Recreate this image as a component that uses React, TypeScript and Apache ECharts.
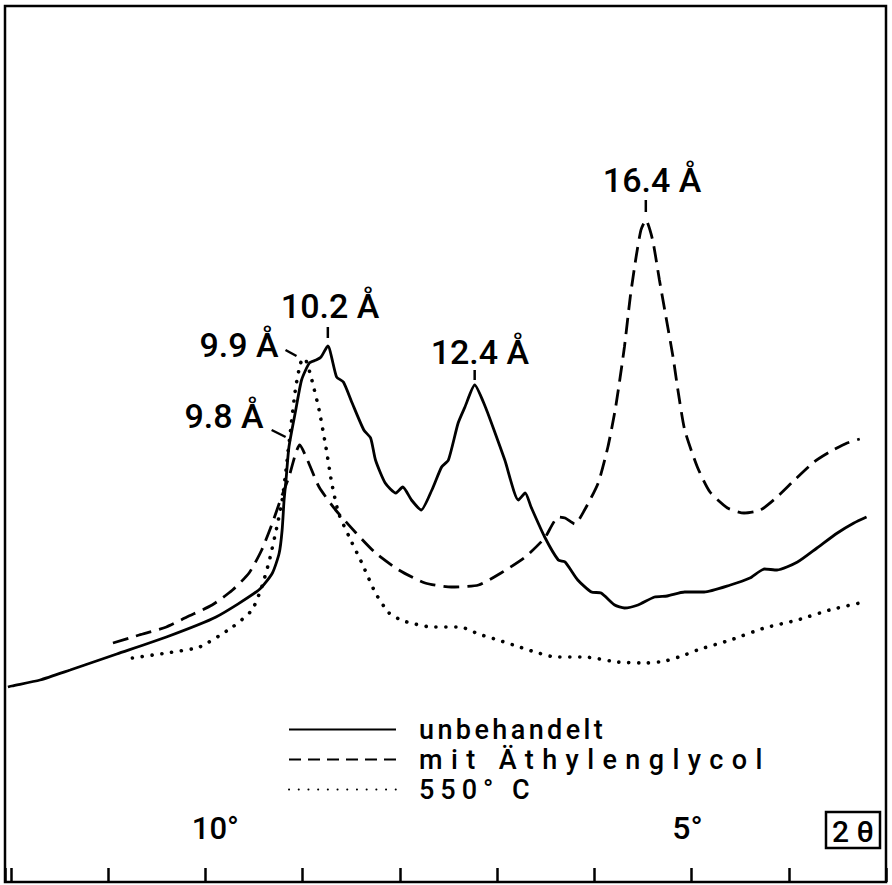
import React, { useEffect, useRef } from "react";
import * as echarts from "echarts";

// ---- data (2θ in degrees, intensity in arbitrary units) ----
const seriesNames = ["unbehandelt", "mit Äthylenglycol", "550° C"];

const untreated: [number, number][] = [
  [12.03, 195], [11.99, 196], [11.7, 202], [11.39, 212], [11.09, 222], [10.91, 228],
  [10.4, 245], [9.89, 265], [9.45, 292], [9.31, 309], [9.24, 329], [9.21, 352],
  [9.19, 382], [9.17, 402], [9.14, 435], [9.07, 472], [9.01, 502], [8.93, 519],
  [8.86, 522], [8.81, 525], [8.74, 536], [8.65, 505], [8.58, 500], [8.49, 479],
  [8.37, 452], [8.3, 444], [8.25, 422], [8.15, 399], [8.04, 389], [7.97, 395],
  [7.88, 382], [7.78, 372], [7.67, 392], [7.57, 415], [7.5, 422], [7.4, 459],
  [7.33, 475], [7.23, 497], [7.12, 475], [7.02, 449], [6.92, 422], [6.78, 382],
  [6.71, 389], [6.65, 375], [6.51, 345], [6.37, 322], [6.3, 320], [6.17, 302],
  [6.03, 290], [5.93, 289], [5.79, 277], [5.69, 274], [5.55, 277], [5.38, 285],
  [5.25, 286], [5.07, 290], [4.87, 290], [4.6, 297], [4.4, 304], [4.25, 313],
  [4.12, 312], [3.91, 320], [3.71, 334], [3.5, 349], [3.33, 359], [3.2, 365],
];

const glycol: [number, number][] = [
  [10.95, 239], [10.68, 247], [10.4, 255], [10.19, 265], [9.93, 277], [9.72, 292],
  [9.55, 309], [9.42, 332], [9.31, 359], [9.21, 387], [9.14, 405], [9.07, 429],
  [9.03, 437], [8.95, 422], [8.83, 395], [8.66, 372], [8.45, 349], [8.25, 329],
  [8.01, 312], [7.74, 299], [7.47, 295], [7.19, 297], [6.96, 309], [6.71, 325],
  [6.51, 344], [6.37, 365], [6.3, 364], [6.2, 358], [6.1, 372], [5.96, 399],
  [5.86, 435], [5.78, 475], [5.69, 535], [5.63, 585], [5.57, 625], [5.52, 652],
  [5.47, 662], [5.4, 642], [5.33, 602], [5.27, 569], [5.19, 525], [5.14, 492],
  [5.07, 452], [4.94, 415], [4.81, 390], [4.63, 374], [4.46, 369], [4.29, 372],
  [4.12, 385], [3.94, 402], [3.74, 420], [3.58, 430], [3.4, 439], [3.27, 443],
];

const heated: [number, number][] = [
  [10.75, 224], [10.4, 229], [10.06, 235], [9.72, 255], [9.52, 272], [9.42, 295],
  [9.34, 322], [9.26, 357], [9.21, 382], [9.17, 412], [9.12, 455], [9.07, 495],
  [9.02, 519], [8.98, 524], [8.91, 504], [8.83, 472], [8.76, 435], [8.7, 399],
  [8.63, 369], [8.52, 345], [8.39, 319], [8.25, 289], [8.11, 269], [7.96, 261],
  [7.67, 255], [7.38, 255], [7.19, 248], [6.99, 242], [6.8, 236], [6.61, 230],
  [6.4, 225], [6.1, 225], [5.76, 220], [5.47, 219], [5.27, 221], [5.07, 227],
  [4.94, 232], [4.6, 242], [4.25, 254], [3.91, 262], [3.58, 272], [3.27, 279],
];

// x-axis ticks and their labels
const labeledTicks = [10, 5];
const tickLabelTexts = ["10°", "5°"];
const axisTitle = "2 θ";

// peak annotations (d-spacings)
const peakLabels = ["16.4 Å", "12.4 Å", "10.2 Å", "9.9 Å", "9.8 Å"];
const peakTheta = [5.47, 7.23, 8.74, 8.98, 9.03];
const peakIntensity = [662, 497, 536, 524, 437];

// ---- layout/style (not data) ----
const annLayout = [
  { dx: -43, dy: -40, align: "left", mark: [0, -20, 0, -8] },
  { dx: -44, dy: -33, align: "left", mark: [0, -15, 0, -5] },
  { dx: -47, dy: -40, align: "left", mark: [0, -19, 0, -8] },
  { dx: -26, dy: -13, align: "right", mark: [-19, -8, -8, -2] },
  { dx: -36, dy: -29, align: "right", mark: [-28, -15, -14, -8] },
];
const tickLabelStyles = ["ten", "five"];

const FONT = 'Roboto, "DejaVu Sans", sans-serif';
const W = 892;
const H = 885;
const LEGEND_LETTER_SPACING = [3.4, 8.4, 6];

export default function App() {
  const ref = useRef<HTMLDivElement>(null);

  useEffect(() => {
    if (!ref.current) return;
    const chart = echarts.init(ref.current, null, { renderer: "svg", width: W, height: H });

    const lineStyles: any[] = [
      { color: "#000", width: 2.8, type: "solid" },
      { color: "#000", width: 2.8, type: [16, 8] },
      { color: "#000", width: 3.6, type: [0.1, 9.8], cap: "round" },
    ];
    const datasets = [untreated, glycol, heated];
    const labelFont = { fontFamily: FONT, fontWeight: 500, fontSize: 31, color: "#000" };

    const option: any = {
      animation: false,
      backgroundColor: "#fff",
      grid: {
        left: 5,
        right: 6,
        top: 6,
        bottom: 3,
        show: true,
        borderColor: "#000",
        borderWidth: 2.5,
        backgroundColor: "transparent",
      },
      xAxis: {
        type: "value",
        inverse: true,
        min: 3,
        max: 12.06,
        interval: 1,
        axisLine: { show: false },
        splitLine: { show: false },
        axisTick: { show: true, inside: true, length: 14, lineStyle: { color: "#000", width: 2.5 } },
        axisLabel: {
          inside: true,
          margin: 38,
          ...labelFont,
          rich: {
            ten: { ...labelFont, padding: [0, 0, 0, 20] },
            five: { ...labelFont, fontSize: 32, padding: [0, 8, 0, 0] },
          },
          formatter: (v: number) => {
            const i = labeledTicks.indexOf(Math.round(v * 1000) / 1000);
            return i >= 0 ? `{${tickLabelStyles[i]}|${tickLabelTexts[i]}}` : "";
          },
        },
      },
      yAxis: { type: "value", min: 0, max: 876, show: false },
      legend: {
        orient: "vertical",
        left: 283,
        top: 711,
        itemWidth: 107,
        itemHeight: 14,
        itemGap: 3,
        selectedMode: false,
        icon: "inherit",
        itemStyle: { opacity: 0 },
        textStyle: { color: "#000", fontFamily: FONT, fontWeight: 500, fontSize: 27, padding: [0, 0, 0, 18] },
        data: [
          { name: seriesNames[0] },
          { name: seriesNames[1], lineStyle: { type: [12, 7] } },
          { name: seriesNames[2], lineStyle: { type: [0.1, 9.6] } },
        ],
      },
      series: datasets.map((d, i) => ({
        name: seriesNames[i],
        type: "line",
        data: d,
        showSymbol: false,
        symbol: "none",
        smooth: 0.2,
        lineStyle: lineStyles[i],
        itemStyle: { color: "#000" },
        silent: true,
      })),
    };
    chart.setOption(option);

    const graphics: any[] = [];
    peakLabels.forEach((label, i) => {
      const p = chart.convertToPixel({ xAxisIndex: 0, yAxisIndex: 0 }, [peakTheta[i], peakIntensity[i]]) as number[];
      const L = annLayout[i];
      graphics.push({
        type: "text",
        x: p[0] + L.dx,
        y: p[1] + L.dy,
        style: {
          text: label,
          fill: "#000",
          font: `500 34px ${FONT}`,
          align: L.align,
          verticalAlign: "middle",
        },
      });
      graphics.push({
        type: "line",
        shape: { x1: p[0] + L.mark[0], y1: p[1] + L.mark[1], x2: p[0] + L.mark[2], y2: p[1] + L.mark[3] },
        style: { stroke: "#000", lineWidth: 2.5 },
      });
    });
    // boxed axis title
    graphics.push({
      type: "rect",
      shape: { x: 826, y: 812, width: 54, height: 36 },
      style: { fill: "#fff", stroke: "#000", lineWidth: 2.5 },
    });
    graphics.push({
      type: "text",
      x: 853,
      y: 831,
      style: { text: axisTitle, fill: "#000", font: `500 30px ${FONT}`, align: "center", verticalAlign: "middle" },
    });
    chart.setOption({ graphic: graphics });

    // widen the legend lettering like the original stencil lettering
    try {
      const texts = ref.current.querySelectorAll("text");
      texts.forEach((t) => {
        const k = seriesNames.indexOf((t.textContent || "").trim());
        if (k >= 0) t.setAttribute("letter-spacing", String(LEGEND_LETTER_SPACING[k]));
      });
    } catch (e) {
      /* ignore */
    }

    return () => chart.dispose();
  }, []);

  return (
    <div
      ref={ref}
      style={{ position: "absolute", left: 0, top: 0, width: W, height: H, background: "#fff" }}
    />
  );
}
